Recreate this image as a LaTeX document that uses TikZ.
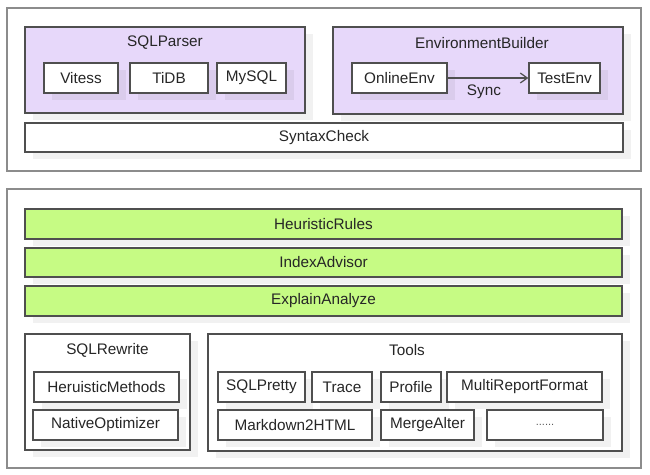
\documentclass[tikz,border=0pt]{standalone}
\usepackage{fontspec}
\setmainfont{Liberation Sans}
\usetikzlibrary{shadows,arrows.meta}
\definecolor{lav}{HTML}{E7D8FA}
\definecolor{grn}{HTML}{C6FB84}
\definecolor{bord}{HTML}{4F4F4F}
\definecolor{outerb}{HTML}{8C8C8C}
\definecolor{txt}{HTML}{262626}
\tikzset{
  sh/.style={drop shadow={shadow xshift=8pt,shadow yshift=-7pt,fill=black,opacity=0.055}},
  outerbox/.style={draw=outerb,line width=1.8pt,fill=white,inner sep=0pt},
  groupbox/.style={draw=bord,line width=1.4pt,inner sep=0pt,sh},
  itembox/.style={draw=bord,line width=1.4pt,fill=white,inner sep=0pt,minimum height=30pt,text=txt,font=\fontsize{15.3}{17}\selectfont,sh},
  greenbox/.style={itembox,fill=grn},
  titletext/.style={text=txt,font=\fontsize{15.3}{17}\selectfont,inner sep=0pt},
}
\begin{document}
\begin{tikzpicture}[x=1pt,y=-1pt]
\useasboundingbox (0,0) rectangle (650,474);
% top layer
\node[outerbox,minimum width=634pt,minimum height=163pt] (outer1) at (324,89.5) {};
\node[groupbox,fill=lav,minimum width=280pt,minimum height=86pt] (sqlparser) at (165,70) {};
\node[titletext] (sqlparsert) at (165,43) {SQLParser};
\node[itembox,minimum width=74pt] (vitess) at (81,78) {Vitess};
\node[itembox,minimum width=78pt] (tidb) at (169,78) {TiDB};
\node[itembox,minimum width=69pt] (mysql) at (251.5,78) {MySQL};
\node[groupbox,fill=lav,minimum width=290pt,minimum height=87pt] (envb) at (478,70.5) {};
\node[titletext] (envbt) at (482,43) {EnvironmentBuilder};
\node[itembox,minimum width=95pt] (online) at (399.5,78) {OnlineEnv};
\node[itembox,minimum width=71pt] (test) at (564.5,78) {TestEnv};
\draw[draw=bord,line width=1.2pt,-{Straight Barb[length=7pt,width=10pt,line width=1.2pt]}] (online.east) -- node[titletext,pos=0.45,below=6pt] (sync) {Sync} (test.west);
\node[itembox,minimum width=598pt,minimum height=29pt] (syntax) at (324,137.5) {SyntaxCheck};
% bottom layer
\node[outerbox,minimum width=634pt,minimum height=279pt] (outer2) at (324,328.5) {};
\node[greenbox,minimum width=597pt] (heur) at (323.5,224) {HeuristicRules};
\node[greenbox,minimum width=597pt,minimum height=29pt] (index) at (323.5,262.5) {IndexAdvisor};
\node[greenbox,minimum width=597pt] (explain) at (323.5,301) {ExplainAnalyze};
\node[groupbox,fill=white,minimum width=165pt,minimum height=116pt] (rewrite) at (107.5,392) {};
\node[titletext] (rewritet) at (107.5,350) {SQLRewrite};
\node[itembox,minimum width=145pt] (hm) at (106.5,387) {HeruisticMethods};
\node[itembox,minimum width=145pt] (no) at (105.5,425) {NativeOptimizer};
\node[groupbox,fill=white,minimum width=414pt,minimum height=117pt] (tools) at (415,392.5) {};
\node[titletext] (toolst) at (407,350) {Tools};
\node[itembox,minimum width=87pt] (pretty) at (261.5,387) {SQLPretty};
\node[itembox,minimum width=60pt] (trace) at (342,387) {Trace};
\node[itembox,minimum width=60pt] (profile) at (411,387) {Profile};
\node[itembox,minimum width=155pt] (multi) at (524.5,387) {MultiReportFormat};
\node[itembox,minimum width=154pt] (md) at (295,425) {Markdown2HTML};
\node[itembox,minimum width=93pt] (merge) at (427.5,425) {MergeAlter};
\node[itembox,minimum width=116pt,font=\fontsize{11}{13}\selectfont,text=txt!75] (more) at (545,425) {......};
\end{tikzpicture}
\end{document}
